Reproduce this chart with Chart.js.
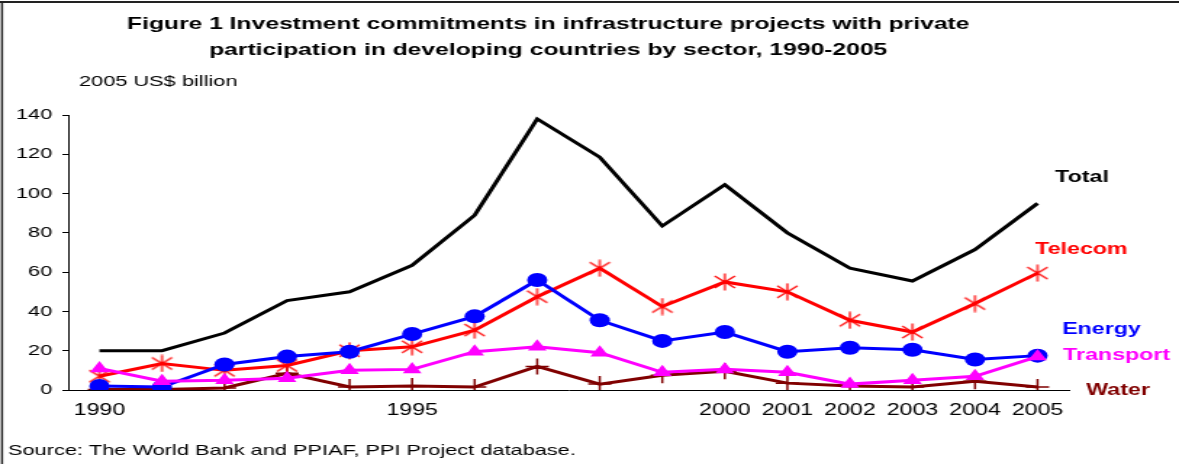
<!DOCTYPE html>
<html>
<head>
<meta charset="utf-8">
<title>Investment commitments in infrastructure projects</title>
<script src="https://cdn.jsdelivr.net/npm/chart.js@4.4.1/dist/chart.umd.min.js"></script>
<style>
  html, body { margin: 0; padding: 0; background: #fff; }
  /* the original figure is stretched sideways, so draw narrow and widen it */
  #chart { display: block; transform: scaleX(1.4502); transform-origin: 0 0; }
</style>
</head>
<body>
<canvas id="chart" width="813" height="464"></canvas>
<script>
// 2005 US$ billion
const years = ['1990', '1991', '1992', '1993', '1994', '1995', '1996', '1997',
  '1998', '1999', '2000', '2001', '2002', '2003', '2004', '2005'];
const shownYears = ['1990', '1995', '2000', '2001', '2002', '2003', '2004', '2005'];
const yTicks = [0, 20, 40, 60, 80, 100, 120, 140];

const total = [20, 20, 29, 45.5, 50, 63.5, 89, 138, 118.5, 83.5, 104.5, 80, 62, 55.5, 71.5, 95];
const telecom = [7, 13.5, 10, 12.5, 20, 22, 30.5, 47.5, 62, 42.5, 55, 50, 35.5, 29.5, 44, 59.5];
const energy = [2, 1.5, 13, 17, 19.5, 28.5, 37.5, 56, 35.5, 25, 29.5, 19.5, 21.5, 20.5, 15.5, 17.5];
const transport = [11, 4.5, 5, 6, 10, 10.5, 19.5, 22, 19, 9, 10.5, 9, 3, 5, 7, 17];
const water = [0.3, 0.3, 1, 8.5, 1.5, 2, 1.5, 12, 3, 7.5, 9.5, 3.5, 2, 1.5, 4.5, 1.5];

const titleLines = [
  'Figure 1 Investment commitments in infrastructure projects with private',
  'participation in developing countries by sector, 1990-2005'
];
const unitLabel = '2005 US$ billion';
const sourceNote = 'Source: The World Bank and PPIAF, PPI Project database.';

const FONT = '"Liberation Sans", Arial, sans-serif';

// asterisk marker for telecom (x plus a vertical bar)
const star = document.createElement('canvas');
star.width = 16;
star.height = 18;
const sc = star.getContext('2d');
sc.strokeStyle = '#ff0000';
sc.lineWidth = 1.3;
sc.beginPath();
sc.moveTo(8, 0.5); sc.lineTo(8, 17.5);
sc.moveTo(1, 3); sc.lineTo(15, 15);
sc.moveTo(1, 15); sc.lineTo(15, 3);
sc.stroke();

const figureText = {
  id: 'figureText',
  beforeDraw(chart) {
    const ctx = chart.ctx;
    ctx.save();
    ctx.fillStyle = '#fff';
    ctx.fillRect(0, 0, chart.width, chart.height);
    ctx.restore();
  },
  afterDraw(chart) {
    const ctx = chart.ctx;
    ctx.save();
    // frame, only top and left survive in the scan
    ctx.fillStyle = '#222';
    ctx.fillRect(0, 1, chart.width, 2);
    ctx.fillRect(0.7, 1, 1.4, chart.height);

    ctx.fillStyle = '#000';
    ctx.textAlign = 'center';
    ctx.font = 'bold 17px ' + FONT;
    ctx.fillText(titleLines[0], 378, 29);
    ctx.fillText(titleLines[1], 378, 55);

    ctx.textAlign = 'left';
    ctx.font = '15px ' + FONT;
    ctx.fillText(unitLabel, 54.5, 86);
    ctx.fillText(sourceNote, 5.5, 455);

    ctx.font = 'bold 16px ' + FONT;
    const labels = [
      ['Total', '#000000', 727.6, 182],
      ['Telecom', '#ff0000', 713.8, 254],
      ['Energy', '#0000ff', 732.4, 334],
      ['Transport', '#ff00ff', 733.1, 360],
      ['Water', '#800000', 749, 395]
    ];
    labels.forEach(([txt, col, x, y]) => {
      ctx.fillStyle = col;
      ctx.fillText(txt, x, y);
    });
    ctx.restore();
  }
};

const ctx = document.getElementById('chart').getContext('2d');
new Chart(ctx, {
  type: 'line',
  data: {
    labels: years,
    datasets: [
      {
        label: 'Transport',
        data: transport,
        borderColor: '#ff00ff',
        backgroundColor: '#ff00ff',
        borderWidth: 3,
        pointStyle: 'triangle',
        pointRadius: 7.5,
        pointBorderWidth: 0,
        tension: 0
      },
      {
        label: 'Energy',
        data: energy,
        borderColor: '#0000ff',
        backgroundColor: '#0000ff',
        borderWidth: 3,
        pointStyle: 'circle',
        pointRadius: 7,
        pointBorderWidth: 0,
        tension: 0
      },
      {
        label: 'Telecom',
        data: telecom,
        borderColor: '#ff0000',
        backgroundColor: '#ff0000',
        borderWidth: 3,
        pointStyle: star,
        pointRadius: 8,
        tension: 0
      },
      {
        label: 'Water',
        data: water,
        borderColor: '#800000',
        backgroundColor: '#800000',
        borderWidth: 3,
        pointStyle: 'cross',
        pointRadius: 8,
        pointBorderWidth: 1.5,
        tension: 0
      },
      {
        label: 'Total',
        data: total,
        borderColor: '#000000',
        backgroundColor: '#000000',
        borderWidth: 3,
        pointRadius: 0,
        tension: 0
      }
    ]
  },
  options: {
    responsive: false,
    animation: false,
    devicePixelRatio: 1,
    layout: { padding: { top: 115, right: 76, bottom: 0, left: 0 } },
    plugins: {
      legend: { display: false },
      tooltip: { enabled: false },
      title: { display: false }
    },
    scales: {
      x: {
        type: 'category',
        offset: true,
        afterFit(scale) { scale.height = 74; },
        grid: { display: false, drawTicks: false },
        border: { display: true, color: '#000', width: 1 },
        ticks: {
          autoSkip: false,
          maxRotation: 0,
          padding: 11,
          color: '#000',
          font: { family: FONT, size: 16 },
          callback(value) {
            const y = this.getLabelForValue(value);
            return shownYears.includes(y) ? y : '';
          }
        }
      },
      y: {
        min: 0,
        max: 140,
        afterFit(scale) { scale.width = 47; },
        afterBuildTicks(scale) { scale.ticks = yTicks.map(v => ({ value: v })); },
        grid: { drawOnChartArea: false, drawTicks: true, tickLength: 4, color: '#000' },
        border: { display: true, color: '#000', width: 1 },
        ticks: {
          padding: 7,
          color: '#000',
          font: { family: FONT, size: 15 }
        }
      }
    }
  },
  plugins: [figureText]
});
</script>
</body>
</html>
